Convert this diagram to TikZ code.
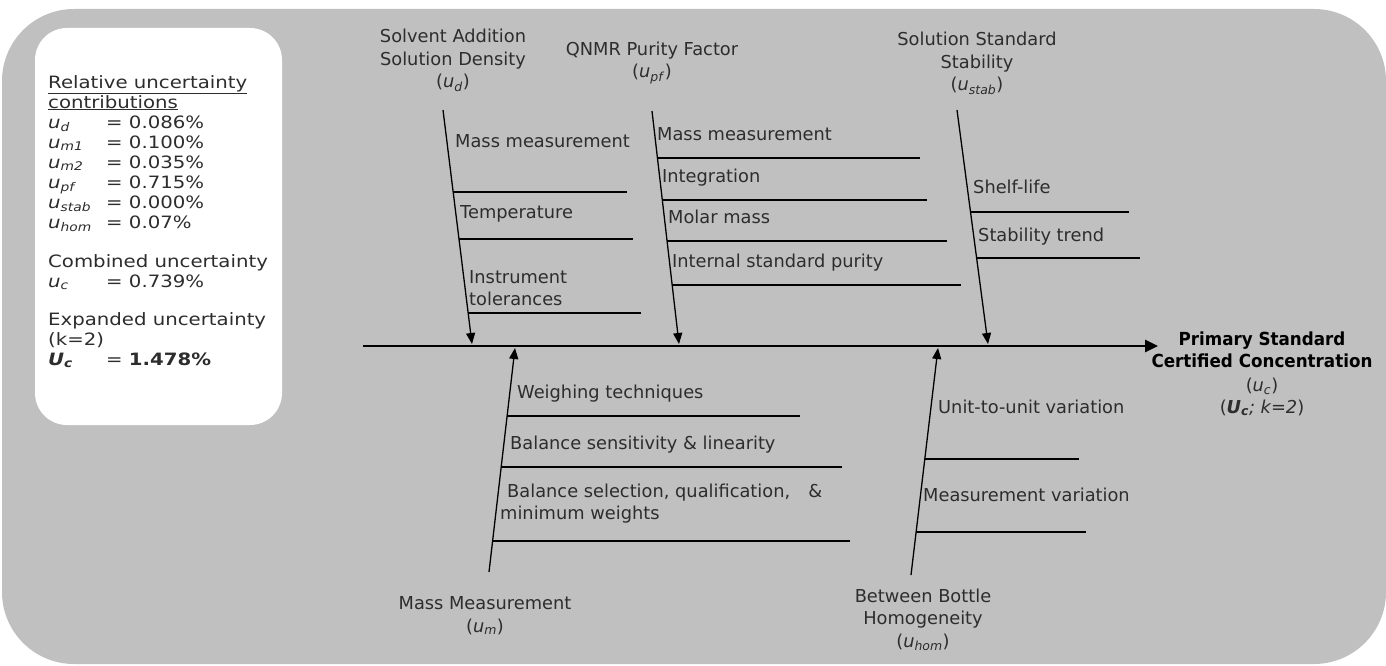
\documentclass[tikz,border=0pt]{standalone}
\usepackage{fontspec}
\setmainfont{DejaVu Sans}
\newfontfamily\boxfont{DejaVu Sans}[FakeStretch=1.16]
\newfontfamily\titlefont{DejaVu Sans}[FakeStretch=0.93]
\usetikzlibrary{arrows.meta}
\definecolor{bg}{RGB}{192,192,192}
\definecolor{txt}{RGB}{45,45,45}
\newcommand{\uu}[2][u]{\textit{#1}\textsubscript{\textit{#2}}}
\begin{document}
\begin{tikzpicture}[x=1pt,y=-1pt,
  lbl/.style={font=\fontsize{17.8}{22.5}\selectfont, text=txt, inner sep=0pt, align=center, anchor=base},
  item/.style={font=\fontsize{17.8}{22}\selectfont, text=txt, inner sep=0pt, anchor=base west, align=left},
  boxtxt/.style={font=\boxfont\fontsize{17}{20}\selectfont, text=txt, inner sep=0pt, anchor=base west, align=left},
  branch/.style={line width=1.3pt, -{Triangle[length=11pt,width=9pt]}},
  subline/.style={line width=1.4pt},
  spine/.style={line width=2.6pt, -{Triangle[length=13pt,width=12pt]}}]
\useasboundingbox (0,0) rectangle (1386,666);
% background
\fill[bg, rounded corners=72pt] (2,9) rectangle (1386,664);
\fill[white, rounded corners=32pt] (35,28) rectangle (282,425);

% left box text (anchors at the last line's baseline)
\node[boxtxt] (rel) at (48,228) {\underline{Relative uncertainty}\\\underline{contributions}\\
\makebox[58pt][l]{\uu{d}}= 0.086\%\\
\makebox[58pt][l]{\uu{m1}}= 0.100\%\\
\makebox[58pt][l]{\uu{m2}}= 0.035\%\\
\makebox[58pt][l]{\uu{pf}}= 0.715\%\\
\makebox[58pt][l]{\uu{stab}}= 0.000\%\\
\makebox[58pt][l]{\uu{hom}}= 0.07\%};
\node[boxtxt] (comb) at (48,287) {Combined uncertainty\\\makebox[58pt][l]{\uu{c}}= 0.739\%};
\node[boxtxt] (expd) at (48,365) {Expanded uncertainty\\(k=2)\\\makebox[58pt][l]{\textbf{\uu[U]{c}}}= \textbf{1.478\%}};

% spine
\coordinate (s0) at (363,346);
\coordinate (s1) at (1158,346);
\draw[spine] (s0) -- (s1);
\node[font=\titlefont\bfseries\fontsize{18}{22}\selectfont, text=black, inner sep=0pt, align=center, anchor=base] (title) at (1262,367) {Primary Standard\\Certified Concentration};
\node[lbl, font=\fontsize{17.8}{21.5}\selectfont] (uc) at (1262,413) {(\uu{c})\\(\textbf{\uu[U]{c}}\textit{; k=2})};

% branch 1: solvent addition
\node[lbl] (ld) at (453,88) {Solvent Addition\\Solution Density\\(\uu{d})};
\coordinate (d0) at (443,110); \coordinate (d1) at (472,344);
\draw[branch] (d0) -- (d1);
\draw[subline] (453,192) -- (627,192);
\draw[subline] (459,239) -- (633,239);
\draw[subline] (468,313) -- (641,313);
\node[item] (d_a) at (455,147) {Mass measurement};
\node[item] (d_b) at (460,218) {Temperature};
\node[item] (d_c) at (469,305) {Instrument\\tolerances};

% branch 2: QNMR
\node[lbl] (lpf) at (652,78) {QNMR Purity Factor\\(\uu{pf})};
\coordinate (p0) at (652,111); \coordinate (p1) at (679,344);
\draw[branch] (p0) -- (p1);
\draw[subline] (657,158) -- (920,158);
\draw[subline] (662,200) -- (927,200);
\draw[subline] (667,241) -- (947,241);
\draw[subline] (672,285) -- (961,285);
\node[item] (p_a) at (657,140) {Mass measurement};
\node[item] (p_b) at (662,182) {Integration};
\node[item] (p_c) at (668,223) {Molar mass};
\node[item] (p_d) at (672,267) {Internal standard purity};

% branch 3: stability
\node[lbl] (lst) at (977,91) {Solution Standard\\Stability\\(\uu{stab})};
\coordinate (t0) at (957,110); \coordinate (t1) at (988,344);
\draw[branch] (t0) -- (t1);
\draw[subline] (970,212) -- (1129,212);
\draw[subline] (976,258) -- (1140,258);
\node[item] (t_a) at (973,193) {Shelf-life};
\node[item] (t_b) at (978,241) {Stability trend};

% branch 4: mass measurement
\node[lbl] (lm) at (485,632) {Mass Measurement\\(\uu{m})};
\coordinate (m0) at (489,572); \coordinate (m1) at (515,348);
\draw[branch] (m0) -- (m1);
\draw[subline] (507,416) -- (800,416);
\draw[subline] (501,467) -- (842,467);
\draw[subline] (492,541) -- (850,541);
\node[item] (m_a) at (517,398) {Weighing techniques};
\node[item] (m_b) at (510,449) {Balance sensitivity \& linearity};
\node[item] (m_c) at (500,519) {\hspace{7pt}Balance selection, qualification,\hspace{18pt}\&\\minimum weights};

% branch 5: homogeneity
\node[lbl] (lh) at (923,647) {Between Bottle\\Homogeneity\\(\uu{hom})};
\coordinate (h0) at (911,575); \coordinate (h1) at (938,348);
\draw[branch] (h0) -- (h1);
\draw[subline] (925,459) -- (1079,459);
\draw[subline] (916,532) -- (1086,532);
\node[item] (h_a) at (938,413) {Unit-to-unit variation};
\node[item] (h_b) at (923,501) {Measurement variation};
\end{tikzpicture}
\end{document}
